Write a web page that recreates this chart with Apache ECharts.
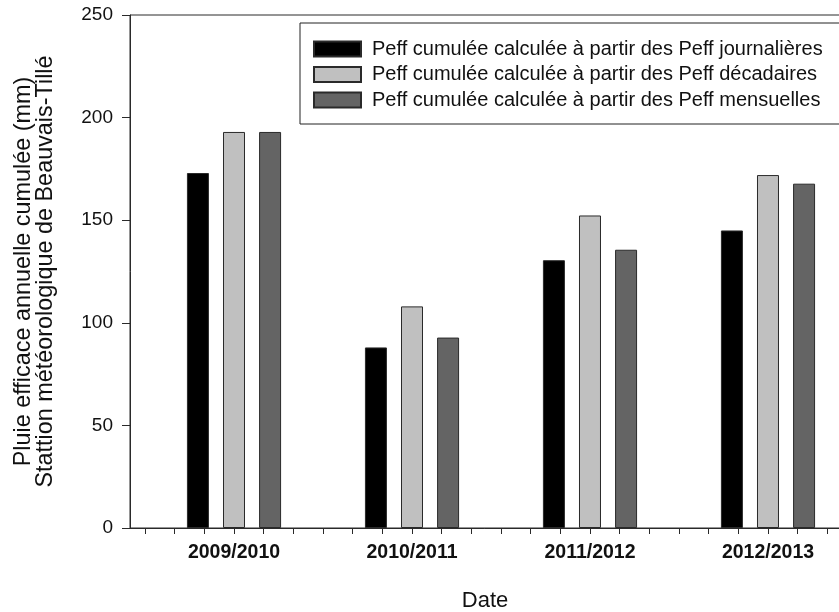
<!DOCTYPE html>
<html>
<head>
<meta charset="utf-8">
<script src="https://cdn.jsdelivr.net/npm/echarts@6/dist/echarts.min.js"></script>
<style>html,body{margin:0;padding:0;background:#fff}#c{width:839px;height:612px}</style>
</head>
<body>
<div id="c"></div>
<script>
const categories = ['2009/2010', '2010/2011', '2011/2012', '2012/2013'];
const seriesNames = [
  'Peff cumulée calculée à partir des Peff journalières',
  'Peff cumulée calculée à partir des Peff décadaires',
  'Peff cumulée calculée à partir des Peff mensuelles'
];
const journalieres = [173, 88, 130.5, 145];
const decadaires = [193, 108, 152.3, 172];
const mensuelles = [193, 92.8, 135.6, 167.8];
const yTicks = [0, 50, 100, 150, 200, 250];

const SUB = 6;            // minor ticks per category on the x scale
const X_MIN = 2.494;      // frame left edge, in x-scale units
const X_MAX = 27.506;     // frame right edge (beyond the visible window)
const colors = ['#000000', '#c0c0c0', '#646464'];
const values = [journalieres, decadaires, mensuelles];

function toPoints(arr) {
  return arr.map((v, i) => [(i + 1) * SUB, v]);
}

// pixel geometry of the frame
const FRAME_LEFT = 130, FRAME_RIGHT_PX = 872, TOP = 15, BOTTOM = 84;
const pxPerUnit = (FRAME_RIGHT_PX - FRAME_LEFT) / (X_MAX - X_MIN);
const tickStart = Math.ceil(X_MIN);
const innerLeft = FRAME_LEFT + (tickStart - X_MIN) * pxPerUnit;

const chart = echarts.init(document.getElementById('c'), null, {renderer: 'canvas'});
const font = 'Liberation Sans, Arial, sans-serif';
const axisCol = '#2a2a2a';
chart.setOption({
  animation: false,
  backgroundColor: '#fff',
  textStyle: {fontFamily: font},
  grid: [
    {left: FRAME_LEFT, top: TOP, bottom: BOTTOM, right: 839 - FRAME_RIGHT_PX, show: true, borderColor: axisCol, borderWidth: 1, backgroundColor: 'transparent', outerBoundsMode: 'none', containLabel: false},
    {left: innerLeft, top: TOP, bottom: BOTTOM, right: 839 - FRAME_RIGHT_PX, show: false, outerBoundsMode: 'none', containLabel: false}
  ],
  legend: {
    orient: 'vertical', left: 300, top: 23,
    padding: [16, 80, 14, 13],
    borderColor: '#222', borderWidth: 1, backgroundColor: '#fff',
    itemWidth: 47, itemHeight: 15, itemGap: 5.5,
    icon: 'rect',
    textStyle: {fontSize: 20, lineHeight: 15, color: '#111', fontFamily: font, padding: [0, 0, 0, 6]},
    data: seriesNames
  },
  xAxis: [
    {
      gridIndex: 0, type: 'value', min: 0, max: 1,
      name: 'Date', nameLocation: 'middle', nameGap: 62,
      nameTextStyle: {fontSize: 22, color: '#111', fontFamily: font, padding: [0, 32, 0, 0]},
      axisLine: {show: true, lineStyle: {color: axisCol, width: 1}},
      axisTick: {show: false}, axisLabel: {show: false}, splitLine: {show: false}
    },
    {
      gridIndex: 1, type: 'value',
      min: tickStart, max: X_MAX, interval: 1,
      axisLine: {show: false},
      axisTick: {show: true, length: 6, lineStyle: {color: axisCol}},
      splitLine: {show: false},
      axisLabel: {
        margin: 15, fontSize: 19.5, fontWeight: 'bold', color: '#111', fontFamily: font,
        formatter: function (v) {
          const k = Math.round(v / SUB);
          if (Math.abs(v - k * SUB) < 1e-6 && k >= 1 && k <= categories.length) return categories[k - 1];
          return '';
        }
      }
    }
  ],
  yAxis: [
    {
      gridIndex: 0, type: 'value', min: yTicks[0], max: yTicks[yTicks.length - 1], interval: yTicks[1] - yTicks[0],
      name: 'Pluie efficace annuelle cumulée (mm)\nStattion météorologique de Beauvais-Tillé',
      nameLocation: 'middle', nameGap: 73,
      nameTextStyle: {fontSize: 23.4, lineHeight: 22, color: '#111', fontFamily: font},
      axisLine: {show: true, lineStyle: {color: axisCol, width: 1}},
      axisTick: {show: true, length: 8, lineStyle: {color: axisCol}},
      splitLine: {show: false},
      axisLabel: {margin: 17, fontSize: 19, color: '#111', fontFamily: font}
    },
    {
      gridIndex: 1, type: 'value', min: yTicks[0], max: yTicks[yTicks.length - 1],
      show: false
    }
  ],
  series: seriesNames.map((n, s) => ({
    name: n, type: 'bar',
    xAxisIndex: 1, yAxisIndex: 1,
    data: toPoints(values[s]),
    barWidth: 22, barGap: '64%',
    itemStyle: {color: colors[s], borderColor: axisCol, borderWidth: 1}
  }))
});
</script>
</body>
</html>
